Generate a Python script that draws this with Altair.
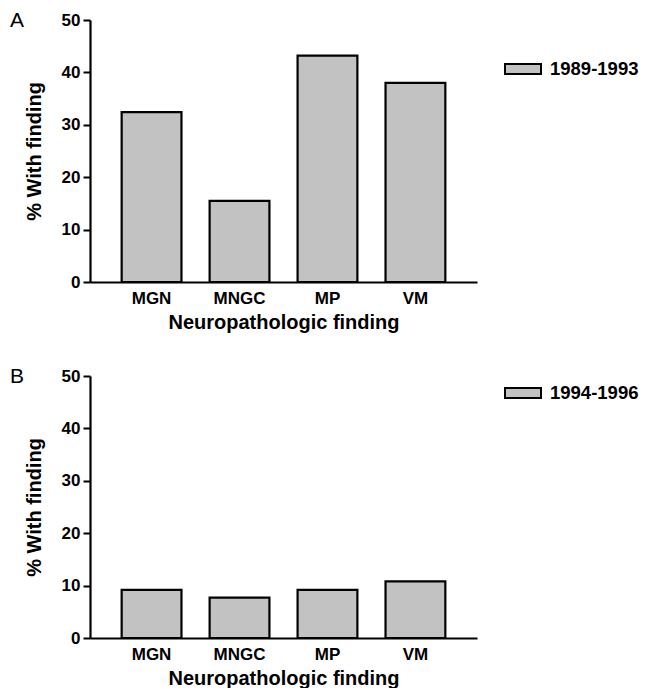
import altair as alt
import pandas as pd

categories = ["MGN", "MNGC", "MP", "VM"]
values_a = [32.4, 15.5, 43.2, 38.0]
values_b = [9.2, 7.7, 9.2, 10.8]
period_a = "1989-1993"
period_b = "1994-1996"
y_ticks = [0, 10, 20, 30, 40, 50]

FONT = "Liberation Sans Narrow, Liberation Sans, Arial"
FILL = "#c2c2c2"


def panel(values, period, letter, legend_y):
    df = pd.DataFrame({"finding": categories, "pct": values, "period": [period] * len(categories)})
    bars = alt.Chart(df).mark_bar(stroke="black", strokeWidth=2.2).encode(
        x=alt.X(
            "finding:N",
            sort=categories,
            scale=alt.Scale(paddingInner=0.32, paddingOuter=0.36),
            axis=alt.Axis(
                title="Neuropathologic finding",
                labelAngle=0,
                ticks=False,
                labelPadding=8,
                titlePadding=6,
            ),
        ),
        y=alt.Y(
            "pct:Q",
            scale=alt.Scale(domain=[0, 50], nice=False),
            axis=alt.Axis(
                title="% With finding",
                values=y_ticks,
                tickSize=7,
                tickWidth=2,
                labelPadding=3,
                titlePadding=17,
                grid=False,
            ),
        ),
        color=alt.Color(
            "period:N",
            scale=alt.Scale(domain=[period], range=[FILL]),
            legend=alt.Legend(
                title=None,
                orient="none",
                legendX=414,
                legendY=legend_y,
                padding=0,
                symbolType="M-1,-0.28H1V0.28H-1Z",
                symbolSize=1296,
                symbolStrokeColor="black",
                symbolStrokeWidth=2,
                symbolFillColor=FILL,
                labelFont=FONT,
                labelFontSize=18.5,
                labelFontWeight="bold",
                labelColor="black",
                labelOffset=8,
            ),
        ),
    )
    label = alt.Chart(pd.DataFrame({"t": [letter]})).mark_text(
        font="Liberation Sans", fontSize=21, align="left", baseline="middle", color="black"
    ).encode(text="t:N", x=alt.value(-80), y=alt.value(1))
    return alt.layer(bars, label).properties(width=387, height=262)


chart = alt.vconcat(
    panel(values_a, period_a, "A", 30),
    panel(values_b, period_b, "B", -2),
    spacing=34,
).resolve_scale(color="independent").resolve_legend(color="independent").properties(
    padding={"left": 2, "top": 2, "right": 0, "bottom": 0}
).configure(
    background="white"
).configure_view(stroke=None).configure_axis(
    domainColor="black",
    domainWidth=2.2,
    tickColor="black",
    labelColor="black",
    titleColor="black",
    labelFont=FONT,
    titleFont=FONT,
    labelFontWeight="bold",
    titleFontWeight="bold",
    labelFontSize=17,
    titleFontSize=20,
)

chart.save(
    "out.html",
    embed_options={
        "renderer": "svg",
        "actions": False,
        "defaultStyle": "html,body{overflow:hidden;} body{margin:8px 0 0 8px;} "
        ".vega-embed{display:block;height:682px;width:639px;overflow:hidden;}",
    },
)
